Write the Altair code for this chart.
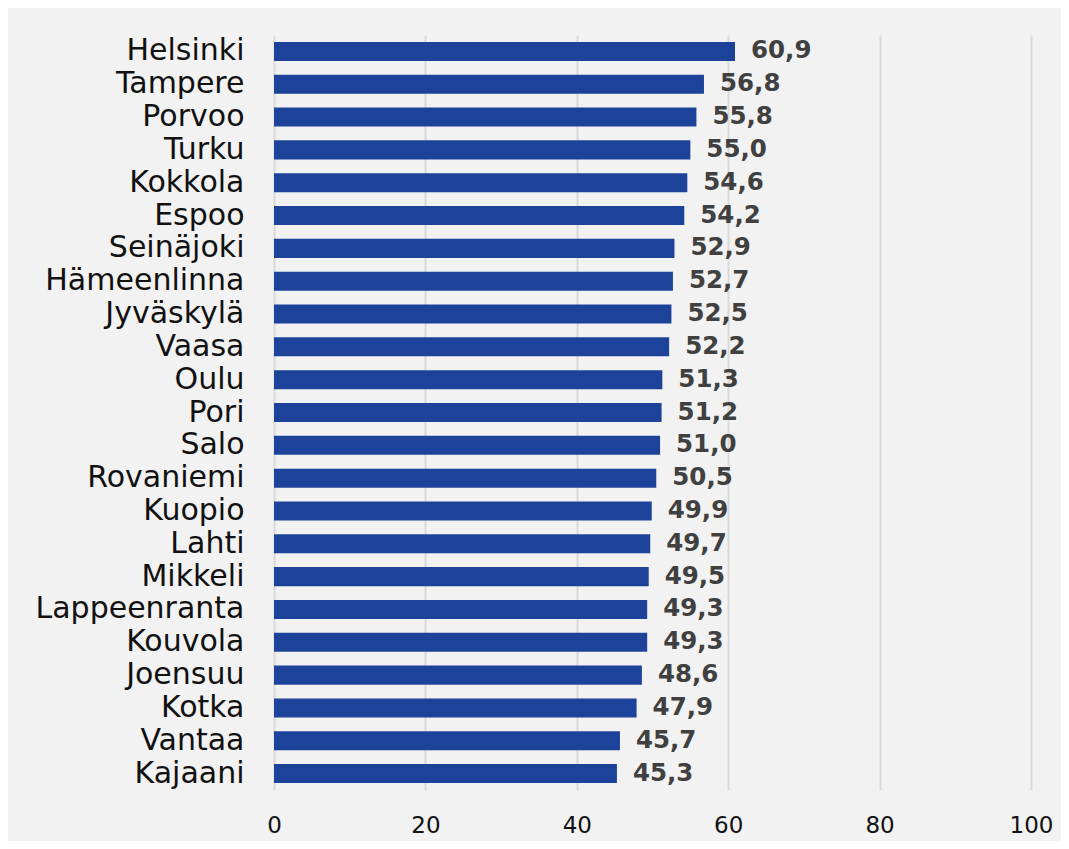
import altair as alt
import pandas as pd

cities = ["Helsinki", "Tampere", "Porvoo", "Turku", "Kokkola", "Espoo", "Seinäjoki",
          "Hämeenlinna", "Jyväskylä", "Vaasa", "Oulu", "Pori", "Salo", "Rovaniemi",
          "Kuopio", "Lahti", "Mikkeli", "Lappeenranta", "Kouvola", "Joensuu", "Kotka",
          "Vantaa", "Kajaani"]
values = [60.9, 56.8, 55.8, 55.0, 54.6, 54.2, 52.9, 52.7, 52.5, 52.2, 51.3, 51.2, 51.0,
          50.5, 49.9, 49.7, 49.5, 49.3, 49.3, 48.6, 47.9, 45.7, 45.3]

df = pd.DataFrame({"city": cities, "value": values})
df["label"] = [f"{v:.1f}".replace(".", ",") for v in values]

FONT = "DejaVu Sans"

y = alt.Y("city:N", sort=cities, title=None,
          scale=alt.Scale(paddingInner=0.42, paddingOuter=0.21),
          axis=alt.Axis(domain=False, ticks=False, labelFontSize=30, labelFont=FONT,
                        labelColor="#111111", labelPadding=30, labelLimit=400))
x = alt.X("value:Q", title=None, scale=alt.Scale(domain=[0, 100], nice=False),
          axis=alt.Axis(values=[0, 20, 40, 60, 80, 100], domain=False, ticks=False,
                        grid=True, gridColor="#d9d9d9", gridWidth=2, labelFlush=False,
                        labelFontSize=23, labelFont=FONT, labelColor="#111111",
                        labelPadding=24))

bars = alt.Chart(df).mark_bar(color="#1c4399").encode(x=x, y=y)
text = alt.Chart(df).mark_text(align="left", baseline="middle", dx=16, font=FONT,
                               fontSize=24.5, fontWeight="bold", color="#404040").encode(
    x="value:Q", y=alt.Y("city:N", sort=cities), text="label:N")

chart = (bars + text).properties(
    width=757, height=755, background="#f2f2f2",
    autosize=alt.AutoSizeParams(type="none"),
    padding={"left": 266, "top": 27, "right": 30, "bottom": 51},
).configure_view(stroke=None, fill="#f2f2f2")

chart.save("out.html", embed_options={"renderer": "svg", "actions": False})
